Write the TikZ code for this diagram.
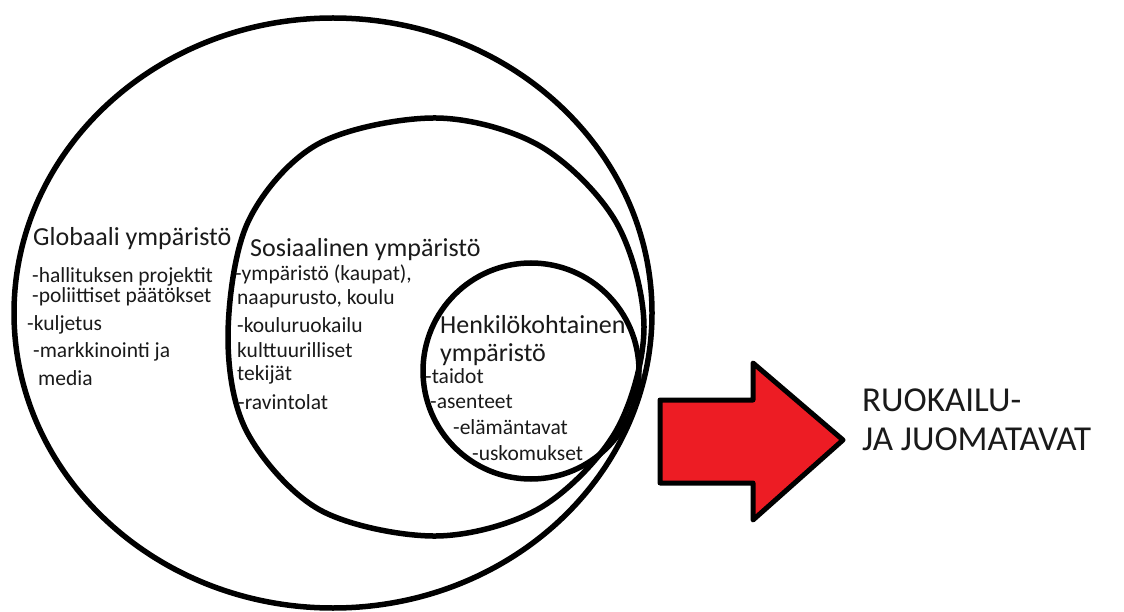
\documentclass[tikz,border=0pt]{standalone}
\usepackage{fontspec}
\setmainfont{Carlito}
\definecolor{paintred}{HTML}{ED1C24}
\definecolor{ink}{HTML}{1A1A1A}
\begin{document}
\begin{tikzpicture}[x=1pt,y=-1pt,
  ring/.style={draw=black,line width=5.5pt},
  ttl/.style={anchor=west,inner sep=0pt,font=\fontsize{26}{30}\selectfont,text=ink},
  itm/.style={anchor=west,inner sep=0pt,font=\fontsize{21.5}{26}\selectfont,text=ink},
  big/.style={anchor=west,inner sep=0pt,font=\fontsize{35}{42}\selectfont,text=ink},
  bigarrow/.style={draw=black,fill=paintred,line width=5pt,line join=round},
]
\useasboundingbox (0,0) rectangle (1124,612);
\fill[white] (0,0) rectangle (1124,612);

% rings
\draw[ring] (333,313) ellipse [x radius=319pt, y radius=295pt];
\draw[ring] plot[smooth cycle, tension=0.55] coordinates {
  (644,327) (616,431) (540,508) (436,536) (320,510) (247,432)
  (228,336) (248,222) (318,144) (436,118) (540,146) (616,222)};
\draw[ring] (531,371) circle [radius=108pt];

% global
\node[ttl] (g0) at (33,239) {Globaali ympäristö};
\node[itm] (g1) at (32,277) {-hallituksen projektit};
\node[itm] (g2) at (32,297) {-poliittiset päätökset};
\node[itm] (g3) at (27,325) {-kuljetus};
\node[itm] (g4) at (33,352) {-markkinointi ja};
\node[itm] (g5) at (38,378) {media};

% social
\node[ttl] (s0) at (250,250) {Sosiaalinen ympäristö};
\node[itm] (s1) at (235,274) {-ympäristö (kaupat),};
\node[itm] (s2) at (237,299) {naapurusto, koulu};
\node[itm] (s3) at (237,325) {-kouluruokailu};
\node[itm] (s4) at (237,350) {kulttuurilliset};
\node[itm] (s5) at (237,375) {tekijät};
\node[itm] (s6) at (238,402) {-ravintolat};

% personal
\node[ttl] (h0) at (440,325) {Henkilökohtainen};
\node[ttl] (h1) at (440,355) {ympäristö};
\node[itm] (h2) at (425,376) {-taidot};
\node[itm] (h3) at (430,402) {-asenteet};
\node[itm] (h4) at (453,427) {-elämäntavat};
\node[itm] (h5) at (472,453) {-uskomukset};

% arrow
\draw[bigarrow] (660,400) -- (753,400) -- (753,363) -- (843,440) -- (753,520) -- (753,483) -- (660,483) -- cycle;

\node[big] (r1) at (862,400) {RUOKAILU-};
\node[big] (r2) at (862,439) {JA JUOMATAVAT};
\end{tikzpicture}
\end{document}
